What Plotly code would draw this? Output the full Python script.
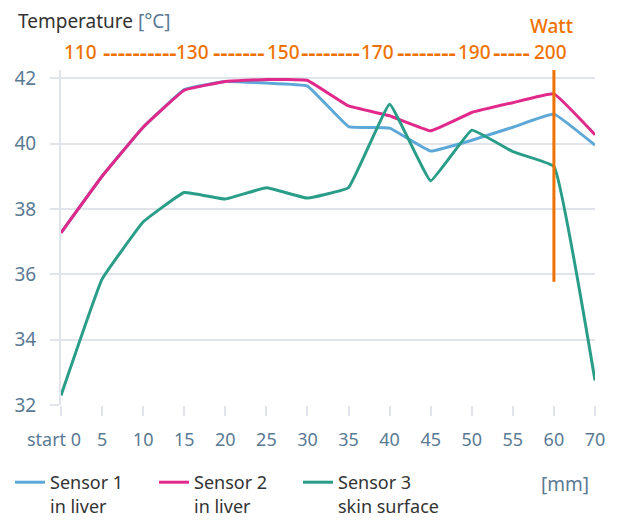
import plotly.graph_objects as go

categories = ["start 0", "5", "10", "15", "20", "25", "30", "35", "40", "45", "50", "55", "60", "70"]
sensor1 = [37.27, 39.0, 40.5, 41.65, 41.9, 41.85, 41.76, 40.52, 40.47, 39.77, 40.1, 40.5, 40.9, 39.95]
sensor2 = [37.27, 39.0, 40.5, 41.63, 41.9, 41.96, 41.93, 41.15, 40.85, 40.39, 40.95, 41.25, 41.52, 40.27]
sensor3 = [32.29, 35.85, 37.6, 38.5, 38.3, 38.65, 38.33, 38.65, 41.2, 38.86, 40.41, 39.75, 39.3, 32.75]
series_names = ["Sensor 1<br>in liver", "Sensor 2<br>in liver", "Sensor 3<br>skin surface"]
series_colors = ["#5ea8d8", "#e0298a", "#2a9d88"]
watt_marker_cat = "60"
watt_marker_range = [35.77, 42.25]
watt_labels = ["110", "130", "150", "170", "190", "200"]
watt_label_x = [80, 192, 283, 377, 474, 550]          # pixel centres (page)
watt_dashes = ["----------", "-------", "--------", "--------", "-----"]
watt_dash_x = [139.5, 239, 330, 426, 511.5]           # pixel centres (page)
y_ticks = [32, 34, 36, 38, 40, 42]

FONT = "Noto Sans"
TICKCOL = "#5a7a94"
GRID = "#e1e5eb"
ORANGE = "#ee7203"
OFF = 8                      # page body margin
W, H = 617 - OFF, 520 - OFF
L = 61 - OFF
T = 70 - OFF
R = W - (595 - OFF)
B = H - (405 - OFF)
PW, PH = W - L - R, H - T - B


def px(xp):
    return (xp - OFF - L) / PW


def py(yp):
    return (H - B - (yp - OFF)) / PH


fig = go.Figure()
for name, vals, col in zip(series_names, [sensor1, sensor2, sensor3], series_colors):
    fig.add_trace(go.Scatter(x=categories, y=vals, mode="lines", name=name,
                             line=dict(color=col, width=3, shape="spline", smoothing=0.25)))

fig.add_trace(go.Scatter(x=[watt_marker_cat, watt_marker_cat], y=watt_marker_range, mode="lines",
                         line=dict(color=ORANGE, width=3), showlegend=False, hoverinfo="skip"))

annotations = [
    dict(text="Temperature <span style='color:#5a7a94'>[°C]</span>", xref="paper", yref="paper",
         x=px(16), y=py(21), xanchor="left", yanchor="middle", showarrow=False,
         font=dict(family=FONT, size=19, color="#333333")),
    dict(text="Watt", xref="paper", yref="paper", x=px(551), y=py(26),
         xanchor="center", yanchor="middle", showarrow=False,
         font=dict(family=FONT, size=19, color=ORANGE, weight=500)),
    dict(text="[mm]", xref="paper", yref="paper", x=px(591), y=py(484),
         xanchor="right", yanchor="middle", showarrow=False,
         font=dict(family=FONT, size=19, color=TICKCOL)),
]
for lab, xc in zip(watt_labels, watt_label_x):
    annotations.append(dict(text=lab, xref="paper", yref="paper", x=px(xc), y=py(52),
                            xanchor="center", yanchor="middle", showarrow=False,
                            font=dict(family=FONT, size=19, color=ORANGE, weight=500)))
for d, xc in zip(watt_dashes, watt_dash_x):
    annotations.append(dict(text=d, xref="paper", yref="paper", x=px(xc), y=py(52),
                            xanchor="center", yanchor="middle", showarrow=False,
                            font=dict(family=FONT, size=23, color=ORANGE, weight=600)))

tick_text = [categories[0] + "\u00a0" * 3] + categories[1:]

fig.update_layout(
    width=W, height=H,
    margin=dict(l=L, r=R, t=T, b=B, autoexpand=False),
    paper_bgcolor="white", plot_bgcolor="white",
    font=dict(family=FONT, size=18, color=TICKCOL),
    showlegend=True,
    legend=dict(orientation="h", xref="container", yref="container",
                x=(10 - OFF) / W, xanchor="left", y=1 - (464 - OFF) / H, yanchor="top",
                font=dict(family=FONT, size=18, color="#333333"),
                entrywidth=99, entrywidthmode="pixels", valign="top", itemwidth=30,
                traceorder="normal"),
    xaxis=dict(type="category", range=[0, len(categories) - 1], showgrid=False, automargin=False,
               tickvals=categories, ticktext=tick_text, tickangle=0,
               ticks="outside", ticklen=10, tickwidth=2, tickcolor=GRID,
               tickfont=dict(family=FONT, size=18, color=TICKCOL),
               showline=False, zeroline=False, ticklabelstandoff=8),
    yaxis=dict(range=[32, 42.25], tickvals=y_ticks, showgrid=True, gridcolor=GRID, gridwidth=2,
               automargin=False,
               ticks="outside", ticklen=9, tickwidth=2, tickcolor=GRID,
               showline=True, linecolor=GRID, linewidth=2,
               tickfont=dict(family=FONT, size=19, color=TICKCOL),
               zeroline=False, ticklabelstandoff=10),
    annotations=annotations,
)

fig.write_html("out.html")
